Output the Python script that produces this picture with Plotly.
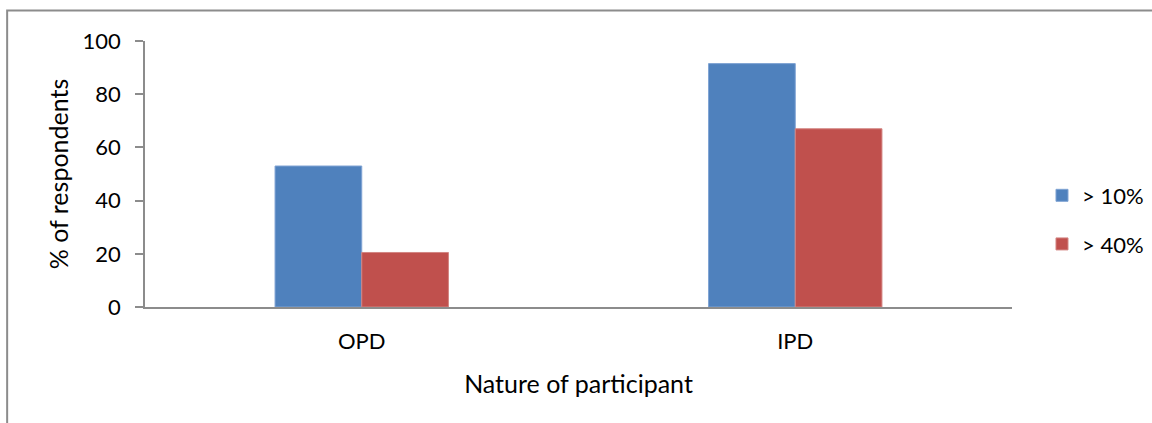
import plotly.graph_objects as go

categories = ["OPD", "IPD"]
series_names = ["> 10%", "> 40%"]
values_10 = [53.0, 91.5]
values_40 = [20.5, 67.0]
colors = ["#4F81BD", "#C0504D"]
edge_colors = ["#7FA3D3", "#D38582"]
y_ticks = [0, 20, 40, 60, 80, 100]

FONT = "Lato"

fig = go.Figure()
for name, vals, col, ecol in zip(series_names, [values_10, values_40], colors, edge_colors):
    fig.add_trace(go.Bar(
        x=categories, y=vals, name=name, legendgroup=name,
        marker=dict(color=col, line=dict(color=ecol, width=1)),
    ))

fig.update_layout(
    width=1152, height=423,
    margin=dict(l=145, r=140, t=41, b=116, autoexpand=False),
    paper_bgcolor="white", plot_bgcolor="white",
    barmode="group", bargap=0.6, bargroupgap=0,
    font=dict(family=FONT, size=22, color="black"),
    showlegend=True,
    legend=dict(x=1.0346, y=0.327, xanchor="left", yanchor="middle",
                font=dict(size=22), tracegroupgap=17, traceorder="grouped",
                bgcolor="rgba(0,0,0,0)"),
    xaxis=dict(
        showline=True, linecolor="#8C8C8C", linewidth=1.5,
        ticks="", showgrid=False, tickfont=dict(size=22), ticklabelstandoff=14,
        title=dict(text="Nature of participant", font=dict(size=25), standoff=22),
    ),
    yaxis=dict(
        range=[0, 100], tickvals=y_ticks, showline=True, linecolor="#8C8C8C",
        linewidth=1.5, ticks="outside", ticklen=8, tickcolor="#8C8C8C", tickwidth=1.5,
        showgrid=False, zeroline=False, tickfont=dict(size=22), ticklabelstandoff=10,
        title=dict(text="% of respondents", font=dict(size=25), standoff=7),
    ),
)

# outer chart border (Excel chart area frame)
fig.add_shape(type="rect", xref="paper", yref="paper",
              x0=-0.159, x1=1.2, y0=-0.6, y1=1.1147,
              line=dict(color="#8C8C8C", width=2), fillcolor="rgba(0,0,0,0)", layer="below")

fig.write_html("out.html", config={"displayModeBar": False},
               post_script="document.body.style.margin='0';document.body.style.overflow='hidden';")
